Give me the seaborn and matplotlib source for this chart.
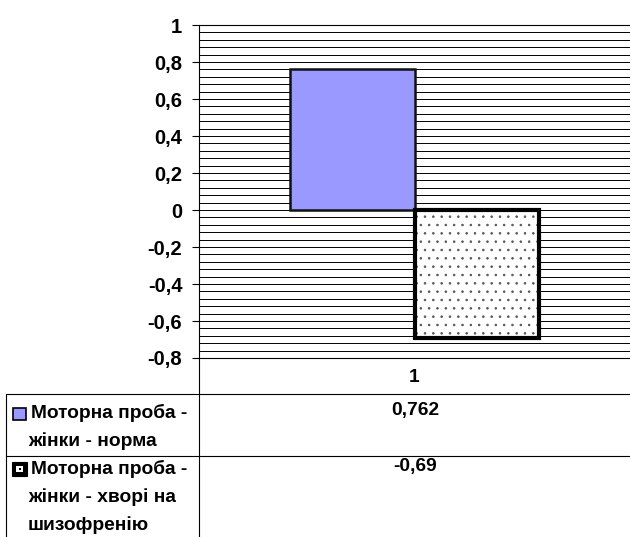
import numpy as np
import pandas as pd
import matplotlib
matplotlib.use("Agg")
import matplotlib.pyplot as plt
from matplotlib.lines import Line2D
from matplotlib.patches import Rectangle
import seaborn as sns

# ---- data ----
categories = ["1"]
series = ["Моторна проба - жінки - норма",
          "Моторна проба - жінки - хворі на шизофренію"]
values = [0.762, -0.69]
series_lines = [["Моторна проба -", "жінки - норма"],
                ["Моторна проба -", "жінки - хворі на", "шизофренію"]]
yticks = [-0.8, -0.6, -0.4, -0.2, 0.0, 0.2, 0.4, 0.6, 0.8, 1.0]
colors = ["#9999FF", "#FFFFFF"]

sns.set_theme(style="white")
plt.rcParams["font.family"] = ["Liberation Sans", "DejaVu Sans"]
plt.rcParams["font.weight"] = "bold"
plt.rcParams["hatch.linewidth"] = 0.6

FS_TICK = 14.5
FS_TAB = 13.8

W, H = 630, 537
fig = plt.figure(figsize=(W / 100, H / 100), dpi=100)
fig.patch.set_facecolor("white")

def fx(px):
    return px / W

def fy(py):
    return 1 - py / H

L, R, T, B = 199, 630, 25, 358
ax = fig.add_axes([fx(L), fy(B), (R - L) / W, (B - T) / H])

df = pd.DataFrame({"cat": categories * len(series),
                   "series": series,
                   "value": values})
sns.barplot(data=df, x="cat", y="value", hue="series", palette=colors,
            width=0.576, gap=0, legend=False, ax=ax, saturation=1)

bars = [p for p in ax.patches if isinstance(p, Rectangle)]
bars[0].set_edgecolor("#111111")
bars[0].set_linewidth(1.8)
bars[1].set_facecolor("white")
bars[1].set_edgecolor("#555555")
bars[1].set_linewidth(0)
bars[1].set_hatch("..")
b = bars[1]
ax.add_patch(Rectangle((b.get_x(), b.get_y()), b.get_width(), b.get_height(),
                       facecolor="none", edgecolor="black", linewidth=3.0,
                       zorder=b.get_zorder() + 0.1))

ax.set_ylim(-0.8, 1.0)
ax.set_xlim(-0.5, 0.5)
ax.set_yticks(yticks)
ax.set_yticks(np.arange(-0.8, 1.0001, 0.04), minor=True)
ax.set_yticklabels([f"{round(v, 1) + 0.0:g}".replace(".", ",") for v in yticks],
                   fontsize=FS_TICK, fontweight="bold")
ax.tick_params(axis="y", which="major", left=True, length=5, width=0.8,
               color="black", pad=7, labelcolor="black")
ax.tick_params(axis="y", which="minor", left=False, length=0)
ax.tick_params(axis="x", length=0, pad=8, labelsize=FS_TAB, labelcolor="black")
for lab in ax.get_xticklabels():
    lab.set_fontweight("bold")
ax.set_xlabel("")
ax.set_ylabel("")
ax.set_axisbelow(True)
ax.grid(False)
ax.yaxis.grid(True, which="both", color="black", linewidth=0.7)
for s in ["left", "bottom", "top"]:
    ax.spines[s].set_visible(True)
    ax.spines[s].set_color("black")
    ax.spines[s].set_linewidth(0.8)
ax.spines["right"].set_visible(False)

# ---- data table ----
def hline(y, x0, x1):
    fig.add_artist(Line2D([fx(x0), fx(x1)], [fy(y), fy(y)],
                          transform=fig.transFigure, color="black", lw=0.8))

def vline(x, y0, y1):
    fig.add_artist(Line2D([fx(x), fx(x)], [fy(y0), fy(y1)],
                          transform=fig.transFigure, color="black", lw=0.8))

vline(L, B, H)
vline(6, 394, H)
hline(394, 6, W)
hline(456, 6, W)

row_tops = [413, 469]
line_gap = 28
for i, (lines, v) in enumerate(zip(series_lines, values)):
    y0 = row_tops[i]
    for j, t in enumerate(lines):
        x = 31 if j == 0 else 28
        fig.text(fx(x), fy(y0 + j * line_gap), t, fontsize=FS_TAB,
                 fontweight="bold", ha="left", va="center", color="black")
    fig.text(fx(415), fy(y0 - 3), f"{v:g}".replace(".", ","), fontsize=FS_TAB,
             fontweight="bold", ha="center", va="center", color="black")

# legend keys
k1 = Rectangle((fx(13), fy(420)), 13 / W, 12 / H, transform=fig.transFigure,
               facecolor=colors[0], edgecolor="black", lw=1.2)
fig.add_artist(k1)
k2 = Rectangle((fx(12), fy(476)), 15 / W, 14 / H, transform=fig.transFigure,
               facecolor="black", edgecolor="black", lw=0.8)
fig.add_artist(k2)
k2i = Rectangle((fx(16), fy(472)), 7 / W, 6 / H, transform=fig.transFigure,
                facecolor="white", edgecolor="none")
fig.add_artist(k2i)
k2d = Rectangle((fx(19), fy(470)), 1.6 / W, 1.6 / H, transform=fig.transFigure,
                facecolor="black", edgecolor="none")
fig.add_artist(k2d)

fig.savefig("out.png", dpi=100, facecolor="white")
